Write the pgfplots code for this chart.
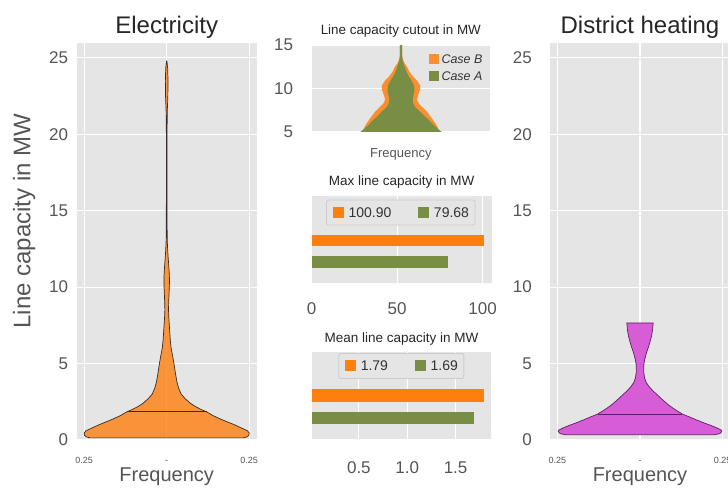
\documentclass[border=0pt]{standalone}
\usepackage{pgfplots}
\pgfplotsset{compat=1.18}
\usepackage{fontspec}
\setmainfont{Liberation Sans}
\definecolor{bg}{HTML}{E5E5E5}
\definecolor{tk}{HTML}{555555}
\definecolor{ttl}{HTML}{262626}
\definecolor{lgtxt}{HTML}{333333}
\definecolor{corange}{HTML}{FF7F0E}
\definecolor{cgreen}{RGB}{119,142,68}
\definecolor{cmag}{RGB}{214,86,214}
\definecolor{cmagedge}{RGB}{95,30,100}
\definecolor{celedge}{RGB}{55,45,40}
\definecolor{lgdraw}{HTML}{CCCCCC}
\newcommand{\fs}[1]{\fontsize{#1bp}{#1bp}\selectfont}
\pgfplotsset{
  base/.style={
    scale only axis,
    anchor=north west,
    axis background/.style={fill=bg},
    axis line style={draw=none},
    major tick length=0pt,
    tick style={draw=none},
    major grid style={white, line width=1.2bp},
    /pgf/number format/assume math mode=true,
    ticklabel style={color=tk, font=\fs{17}},
    yticklabel style={anchor=east, inner sep=0pt},
    xticklabel style={anchor=base, inner sep=0pt},
    every axis title/.style={at={(axis description cs:0.5,1)}, anchor=base, font=\fs{24}, color=ttl},
    every axis x label/.style={at={(axis description cs:0.5,0)}, anchor=base, font=\fs{20}, color=tk},
  },
}
\begin{document}
\begin{tikzpicture}
% ---------------- Electricity ----------------
\begin{axis}[base, at={(76.7bp,-43.3bp)}, width=180bp, height=396.7bp,
  xmin=-0.2727, xmax=0.2727, ymin=0, ymax=25.95,
  grid=major,
  xtick={-0.25,0,0.25}, xticklabels={0.25,-,0.25},
  ytick={0,5,10,15,20,25},
  xticklabel style={yshift=-23.2bp, font=\fs{9}},
  yticklabel style={xshift=-8.4bp},
  title={Electricity}, title style={yshift=10bp},
  xlabel={Frequency}, xlabel style={yshift=-41bp},
  ylabel={Line capacity in MW},
  every axis y label/.style={at={(axis description cs:-0.257,0.552)}, rotate=90, anchor=base, font=\fs{24}, color=tk},
]
\addplot[fill=corange, fill opacity=0.8, draw=celedge, line width=0.7bp] coordinates {
(-0.232,0.14) (-0.243,0.2) (-0.249,0.3) (-0.25,0.45) (-0.245,0.6) (-0.225,0.8) (-0.205,1.0) (-0.182,1.2) (-0.160,1.4) (-0.140,1.6) (-0.121,1.84) (-0.104,2.0) (-0.086,2.2) (-0.072,2.4) (-0.056,2.7) (-0.044,3.0) (-0.036,3.4) (-0.031,3.8) (-0.027,4.3) (-0.022,5.0) (-0.018,5.5) (-0.0135,6.0) (-0.011,6.5) (-0.0095,7.0) (-0.008,7.5) (-0.0065,8.0) (-0.0055,8.5) (-0.006,9.0) (-0.007,9.5) (-0.008,10.0) (-0.0085,10.5) (-0.0075,11.0) (-0.006,11.5) (-0.0042,12.0) (-0.0028,12.5) (-0.0018,13.0) (-0.0012,14.0) (-0.001,16.0) (-0.001,20.0) (-0.0018,21.5) (-0.0035,22.5) (-0.004,23.5) (-0.003,24.3) (-0.0005,24.8)
(0.0005,24.8) (0.003,24.3) (0.004,23.5) (0.0035,22.5) (0.0018,21.5) (0.001,20.0) (0.001,16.0) (0.0012,14.0) (0.0018,13.0) (0.0028,12.5) (0.0042,12.0) (0.006,11.5) (0.0075,11.0) (0.0085,10.5) (0.008,10.0) (0.007,9.5) (0.006,9.0) (0.0055,8.5) (0.0065,8.0) (0.008,7.5) (0.0095,7.0) (0.011,6.5) (0.0135,6.0) (0.018,5.5) (0.022,5.0) (0.027,4.3) (0.031,3.8) (0.036,3.4) (0.044,3.0) (0.056,2.7) (0.072,2.4) (0.086,2.2) (0.104,2.0) (0.121,1.84) (0.140,1.6) (0.160,1.4) (0.182,1.2) (0.205,1.0) (0.225,0.8) (0.245,0.6) (0.25,0.45) (0.249,0.3) (0.243,0.2) (0.232,0.14)
} -- cycle;
\addplot[celedge, line width=1.1bp] coordinates {(-0.121,1.84) (0.121,1.84)};
\end{axis}
% ---------------- District heating ----------------
\begin{axis}[base, at={(550bp,-43.3bp)}, width=180bp, height=396.7bp,
  xmin=-0.2727, xmax=0.2727, ymin=0, ymax=25.95,
  grid=major,
  xtick={-0.25,0,0.25}, xticklabels={0.25,-,0.25},
  ytick={0,5,10,15,20,25},
  xticklabel style={yshift=-23.2bp, font=\fs{9}},
  yticklabel style={xshift=-18bp},
  title={District heating}, title style={yshift=10bp},
  xlabel={Frequency}, xlabel style={yshift=-41.5bp},
]
\addplot[fill=cmag, fill opacity=0.95, draw=cmagedge, line width=0.7bp] coordinates {
(-0.228,0.35) (-0.242,0.42) (-0.248,0.55) (-0.246,0.65) (-0.232,0.8) (-0.214,0.96) (-0.196,1.1) (-0.174,1.29) (-0.151,1.5) (-0.130,1.68) (-0.113,1.9) (-0.099,2.1) (-0.086,2.3) (-0.070,2.6) (-0.055,2.9) (-0.040,3.2) (-0.027,3.5) (-0.018,3.8) (-0.0135,4.1) (-0.011,4.5) (-0.0115,4.9) (-0.0135,5.2) (-0.017,5.5) (-0.021,5.8) (-0.026,6.1) (-0.030,6.4) (-0.035,6.8) (-0.038,7.2) (-0.040,7.66)
(0.040,7.66) (0.038,7.2) (0.035,6.8) (0.030,6.4) (0.026,6.1) (0.021,5.8) (0.017,5.5) (0.0135,5.2) (0.0115,4.9) (0.011,4.5) (0.0135,4.1) (0.018,3.8) (0.027,3.5) (0.040,3.2) (0.055,2.9) (0.070,2.6) (0.086,2.3) (0.099,2.1) (0.113,1.9) (0.130,1.68) (0.151,1.5) (0.174,1.29) (0.196,1.1) (0.214,0.96) (0.232,0.8) (0.246,0.65) (0.248,0.55) (0.242,0.42) (0.228,0.35)
} -- cycle;
\addplot[cmagedge, line width=1.1bp] coordinates {(-0.128,1.68) (0.128,1.68)};
\end{axis}
% ---------------- Cutout ----------------
\begin{axis}[base, at={(311.7bp,-45bp)}, width=178.3bp, height=86.7bp,
  xmin=-89.3, xmax=89, ymin=5, ymax=15,
  ymajorgrids, xtick=\empty, ytick={5,10,15},
  yticklabel style={xshift=-18.4bp},
  title={Line capacity cutout in MW}, title style={yshift=11bp, font=\fs{13.4}},
  xlabel={Frequency}, xlabel style={yshift=-26bp, font=\fs{13}},
  legend cell align=left,
  legend style={at={(axis description cs:0.654,0.893)}, anchor=north west, draw=none, fill=none, inner sep=0pt,
    font=\itshape\fs{12.5}, text=lgtxt, nodes={inner sep=0pt, text height=9bp, text depth=0pt}, row sep=6.7bp,
    /tikz/every odd column/.append style={column sep=3bp}},
]
\addplot[fill=corange, fill opacity=0.85, draw=none,
  legend image code/.code={\fill[corange, sharp corners] (0bp,-5bp) rectangle (10bp,5bp);}] coordinates {
(-41,4.5) (-39,5.0) (-37.5,5.3) (-35,5.85) (-32,6.36) (-28.5,6.9) (-26,7.3) (-21.5,7.8) (-17.7,8.25) (-16,8.7) (-17,9.2) (-19,9.8) (-19.3,10.3) (-16,10.9) (-11.7,11.4) (-8.5,11.9) (-6,12.5) (-3.5,12.9) (-2,13.3) (-1.2,13.8) (-1.1,15.5)
(1.1,15.5) (1.2,13.8) (2,13.3) (3.5,12.9) (6,12.5) (8.5,11.9) (11.7,11.4) (16,10.9) (19.3,10.3) (19,9.8) (17,9.2) (16,8.7) (17.7,8.25) (21.5,7.8) (26,7.3) (28.5,6.9) (32,6.36) (35,5.85) (37.5,5.3) (39,5.0) (41,4.5)
} -- cycle;
\addplot[fill=cgreen, draw=none,
  legend image code/.code={\fill[cgreen, sharp corners] (0bp,-5bp) rectangle (10bp,5bp);}] coordinates {
(-43,4.5) (-40.5,5.0) (-37,5.3) (-32,5.85) (-27.7,6.36) (-22.5,6.9) (-19.3,7.3) (-14.5,7.8) (-12.2,8.25) (-11.7,8.6) (-12.5,9.2) (-13.5,9.8) (-13,10.3) (-10.5,10.9) (-7.7,11.4) (-5.5,11.9) (-3.7,12.5) (-1.7,13.2) (-1.1,13.6) (-1.1,15.5)
(1.1,15.5) (1.1,13.6) (1.7,13.2) (3.7,12.5) (5.5,11.9) (7.7,11.4) (10.5,10.9) (13,10.3) (13.5,9.8) (12.5,9.2) (11.7,8.6) (12.2,8.25) (14.5,7.8) (19.3,7.3) (22.5,6.9) (27.7,6.36) (32,5.85) (37,5.3) (40.5,5.0) (43,4.5)
} -- cycle;
\legend{Case B, Case A}
\end{axis}
% ---------------- Max line capacity ----------------
\begin{axis}[base, at={(311.7bp,-196bp)}, width=180bp, height=87.3bp,
  xmin=0, xmax=105.3, ymin=0, ymax=87.3,
  xmajorgrids, xtick={0,50,100}, ytick=\empty,
  xticklabel style={yshift=-30.8bp},
  title={Max line capacity in MW}, title style={yshift=10.3bp, font=\fs{13.5}},
  legend columns=2,
  legend style={at={(axis description cs:0.495,0.811)}, anchor=center, fill=bg, draw=lgdraw, line width=0.8bp,
    rounded corners=2bp, font=\fs{14}, text=lgtxt, inner xsep=6bp, inner ysep=7bp,
    nodes={inner sep=0pt, text depth=0pt},
    /tikz/every odd column/.append style={column sep=5bp},
    /tikz/every even column/.append style={column sep=26.6bp}},
]
\addplot[xbar, bar width=11.5, bar shift=0pt, fill=corange, draw=none,
  legend image code/.code={\fill[corange, sharp corners] (0bp,-5.5bp) rectangle (11bp,5.5bp);}] coordinates {(100.90,42.8)};
\addplot[xbar, bar width=11.5, bar shift=0pt, fill=cgreen, draw=none,
  legend image code/.code={\fill[cgreen, sharp corners] (0bp,-5.5bp) rectangle (11bp,5.5bp);}] coordinates {(79.68,21.1)};
\legend{100.90, 79.68}
\end{axis}
% ---------------- Mean line capacity ----------------
\begin{axis}[base, at={(312bp,-351.7bp)}, width=179bp, height=87.6bp,
  xmin=0.0155, xmax=1.866, ymin=0, ymax=87.6,
  xmajorgrids, xtick={0.5,1.0,1.5}, xticklabels={0.5,1.0,1.5}, ytick=\empty,
  xticklabel style={yshift=-34bp},
  title={Mean line capacity in MW}, title style={yshift=9.4bp, font=\fs{13.5}},
  legend columns=2,
  legend style={at={(axis description cs:0.499,0.837)}, anchor=center, fill=bg, draw=lgdraw, line width=0.8bp,
    rounded corners=2bp, font=\fs{14}, text=lgtxt, inner xsep=6bp, inner ysep=7bp,
    nodes={inner sep=0pt, text depth=0pt},
    /tikz/every odd column/.append style={column sep=5bp},
    /tikz/every even column/.append style={column sep=26.6bp}},
]
\addplot[xbar, bar width=12.3, bar shift=0pt, fill=corange, draw=none,
  legend image code/.code={\fill[corange, sharp corners] (0bp,-5.5bp) rectangle (11bp,5.5bp);}] coordinates {(1.79,43.8)};
\addplot[xbar, bar width=12.3, bar shift=0pt, fill=cgreen, draw=none,
  legend image code/.code={\fill[cgreen, sharp corners] (0bp,-5.5bp) rectangle (11bp,5.5bp);}] coordinates {(1.69,21.3)};
\legend{1.79, 1.69}
\end{axis}
\pgfresetboundingbox
\useasboundingbox (0,0) rectangle (728bp,-489bp);
\end{tikzpicture}
\end{document}
